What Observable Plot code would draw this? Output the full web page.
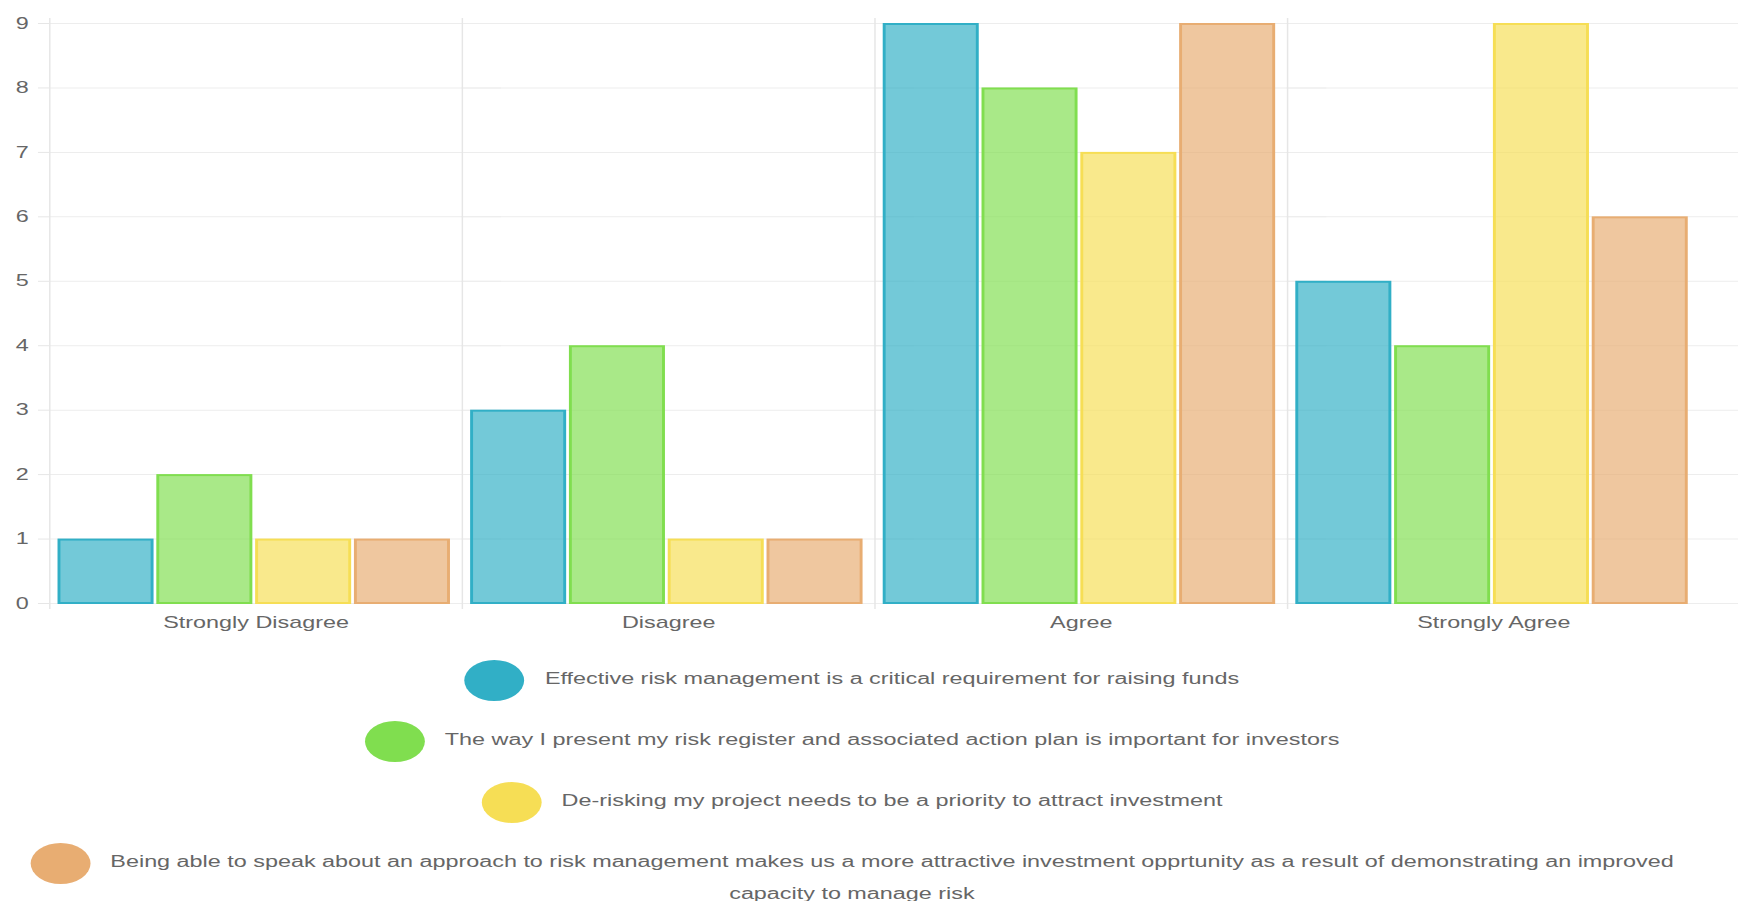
<!DOCTYPE html>
<html>
<head>
<meta charset="utf-8">
<script src="https://cdn.jsdelivr.net/npm/d3@7"></script>
<script src="https://cdn.jsdelivr.net/npm/@observablehq/plot@0.6"></script>
<style>
  html, body { margin: 0; padding: 0; background: #fff; overflow: hidden; }
  /* the whole chart is drawn narrow and widened horizontally */
  #stage {
    position: absolute; left: 0; top: 0;
    width: 1190px; height: 901px;
    transform: scaleX(1.46); transform-origin: 0 0;
    font-family: "Liberation Sans", Arial, sans-serif; color: #666;
  }
  #stage svg { position: absolute; left: 0; top: 0; }
  #legend {
    position: absolute; left: 0; top: 663.4px; width: 1167px;
    text-align: center; font-size: 16px; line-height: 31px;
  }
  #legend .item { margin-bottom: 29.7px; }
  #legend .dot {
    display: inline-block; width: 41px; height: 41px; border-radius: 50%;
    vertical-align: middle; margin: -6px 14px -6px 0;
  }
</style>
</head>
<body>
<div id="stage">
  <div id="legend"></div>
</div>
<script>
// Survey answers, grouped by level of agreement
const categories = ["Strongly Disagree", "Disagree", "Agree", "Strongly Agree"];

const seriesNames = [
  "Effective risk management is a critical requirement for raising funds",
  "The way I present my risk register and associated action plan is important for investors",
  "De-risking my project needs to be a priority to attract investment",
  "Being able to speak about an approach to risk management makes us a more attractive investment opprtunity as a result of demonstrating an improved capacity to manage risk"
];

// counts per category for each statement
const effectiveRisk   = [1, 3, 9, 5];
const presentRegister = [2, 4, 8, 4];
const deRisking       = [1, 1, 7, 9];
const speakApproach   = [1, 1, 9, 6];

const yTicks = [0, 1, 2, 3, 4, 5, 6, 7, 8, 9];

const palette = ["#31afc6", "#80de4f", "#f6de55", "#e8ad72"];

const seriesValues = [effectiveRisk, presentRegister, deRisking, speakApproach];
const rows = seriesValues.flatMap((values, s) =>
  categories.map((category, i) => ({category, series: seriesNames[s], value: values[i]}))
);

const chart = Plot.plot({
  width: 1190,
  height: 645,
  marginLeft: 33.6,
  marginRight: 0,
  marginTop: 23,
  marginBottom: 42,
  style: {
    fontFamily: "'Liberation Sans', Arial, sans-serif",
    fontSize: "16px",
    color: "#666",
    background: "transparent",
    overflow: "visible"
  },
  fx: {domain: categories, paddingInner: 0, paddingOuter: 0.046, align: 0, round: false},
  x: {domain: seriesNames, paddingInner: 0.028, paddingOuter: 0.102, align: 0.42, round: false, axis: null},
  y: {domain: [0, 9]},
  color: {domain: seriesNames, range: palette},
  marks: [
    // horizontal grid, carried on past the last group to the right edge
    Plot.ruleY(yTicks, {stroke: "#ededed", insetRight: -27}),
    // group separators
    Plot.frame({anchor: "left", stroke: "#e6e6e6", insetBottom: -5, insetTop: -5}),
    Plot.barY(rows, {
      fx: "category", x: "series", y: "value",
      fill: "series", fillOpacity: 0.68,
      stroke: "series", strokeWidth: 2,
      insetLeft: 1, insetRight: 1, insetTop: 1
    }),
    Plot.axisY({ticks: yTicks, tickSize: 7.6, tickPadding: 6.8, stroke: "#e6e6e6", label: null, tickFormat: d => String(d)}),
    Plot.axisFx({anchor: "bottom", tickSize: 0, tickPadding: 13, label: null})
  ]
});

const stage = document.getElementById("stage");
stage.insertBefore(chart, stage.firstChild);

// legend: one centered row per statement
const legend = document.getElementById("legend");
seriesNames.forEach((name, i) => {
  const item = document.createElement("div");
  item.className = "item";
  const dot = document.createElement("span");
  dot.className = "dot";
  dot.style.background = palette[i];
  item.appendChild(dot);
  item.appendChild(document.createTextNode(name));
  legend.appendChild(item);
});
</script>
</body>
</html>
